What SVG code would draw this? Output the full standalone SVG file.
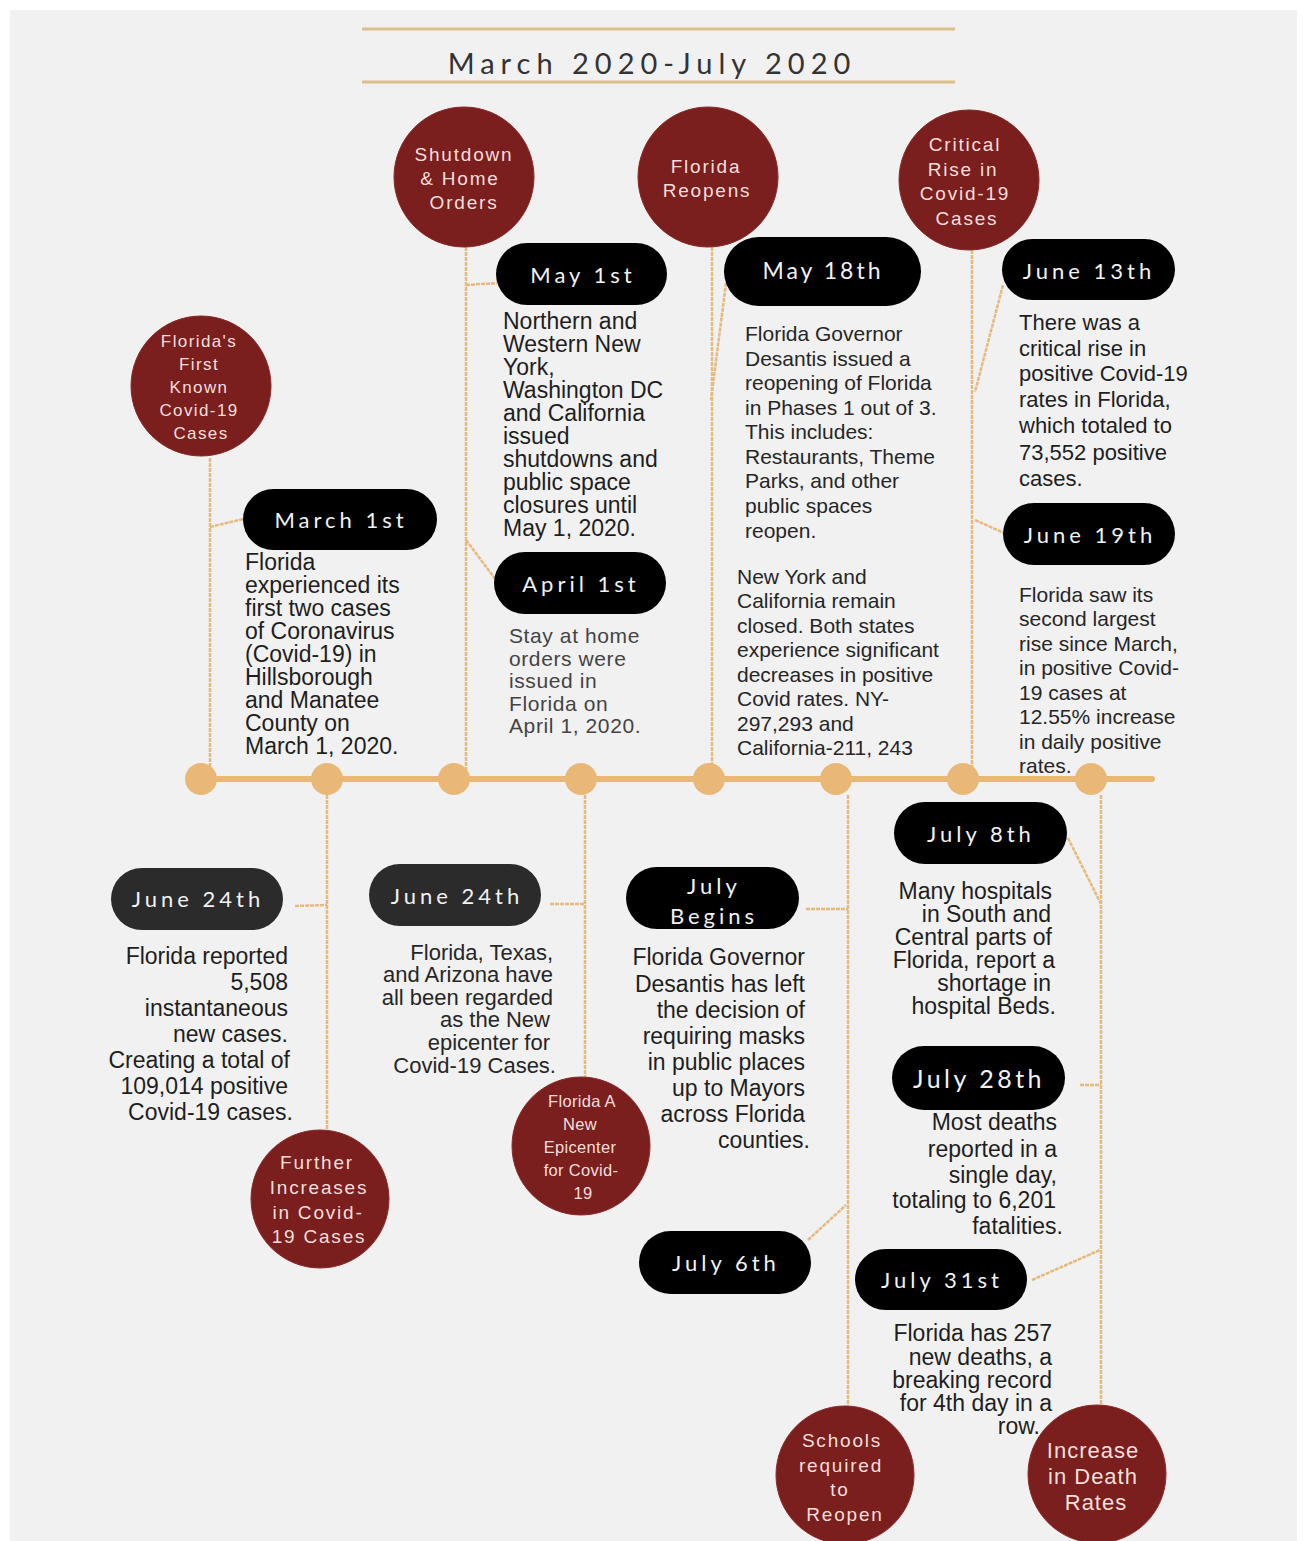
<svg xmlns="http://www.w3.org/2000/svg" width="1307" height="1541" viewBox="0 0 1307 1541">
<style>
.bg{fill:#f1f1f1}
.rule{stroke:#dcc08c;stroke-width:3}
.title{font-family:Lato,"Open Sans",sans-serif;font-size:29px;letter-spacing:6px;fill:#333;text-anchor:middle}
.axis{stroke:#e9b877;stroke-width:6;stroke-linecap:round}
.dot{fill:#e9b877}
.con{stroke:#e6b97c;stroke-width:2.5;fill:none;stroke-dasharray:4 1}
.circ{fill:#7a1e1e;stroke:#8a2a2a;stroke-width:1}
.ct{font-family:"Liberation Sans",Arial,sans-serif;font-size:19px;letter-spacing:1.8px;fill:#f4dfdc;text-anchor:middle}
.pill{fill:#000}
.pill2{fill:#2b2b2b}
.pt{font-family:Lato,"Open Sans",sans-serif;font-size:22px;letter-spacing:4px;fill:#f2f2f2;text-anchor:middle}
.bt{font-family:"Liberation Sans",Arial,sans-serif;font-size:23px;fill:#1e1e1e}
.st{font-family:"Liberation Sans",Arial,sans-serif;font-size:21px;fill:#262626}
.gt{font-family:"Liberation Sans",Arial,sans-serif;font-size:21px;letter-spacing:0.6px;fill:#444}
.r{text-anchor:end}
</style>
<rect width="1307" height="1541" fill="#ffffff"/>
<rect class="bg" x="10" y="10" width="1287" height="1531"/>

<g id="title">
<line class="rule" x1="362" y1="29" x2="955" y2="29"/>
<line class="rule" x1="362" y1="82" x2="955" y2="82"/>
<text class="title" x="652" y="74">March 2020-July 2020</text>
</g>

<g id="connectors">
<line class="axis" x1="190" y1="779" x2="1152" y2="779"/>
<line class="con" x1="210" y1="458" x2="210" y2="770"/>
<line class="con" x1="210" y1="527" x2="243" y2="519"/>
<line class="con" x1="466" y1="247" x2="466" y2="770"/>
<line class="con" x1="466" y1="285" x2="497" y2="283"/>
<line class="con" x1="466" y1="540" x2="496" y2="580"/>
<line class="con" x1="712" y1="247" x2="712" y2="770"/>
<line class="con" x1="726" y1="283" x2="711" y2="400"/>
<line class="con" x1="972" y1="250" x2="972" y2="770"/>
<line class="con" x1="1003" y1="285" x2="975" y2="392"/>
<line class="con" x1="975" y1="520" x2="1004" y2="533"/>
<line class="con" x1="327" y1="795" x2="327" y2="1131"/>
<line class="con" x1="295" y1="906" x2="327" y2="905"/>
<line class="con" x1="585" y1="795" x2="585" y2="1078"/>
<line class="con" x1="550" y1="904" x2="585" y2="904"/>
<line class="con" x1="848" y1="795" x2="848" y2="1406"/>
<line class="con" x1="806" y1="909" x2="848" y2="909"/>
<line class="con" x1="808" y1="1240" x2="846" y2="1205"/>
<line class="con" x1="1101" y1="795" x2="1101" y2="1406"/>
<line class="con" x1="1068" y1="838" x2="1101" y2="904"/>
<line class="con" x1="1080" y1="1085" x2="1101" y2="1085"/>
<line class="con" x1="1032" y1="1280" x2="1100" y2="1250"/>
<circle class="dot" cx="201" cy="779" r="16"/>
<circle class="dot" cx="327" cy="779" r="16"/>
<circle class="dot" cx="454" cy="779" r="16"/>
<circle class="dot" cx="581" cy="779" r="16"/>
<circle class="dot" cx="709" cy="779" r="16"/>
<circle class="dot" cx="836" cy="779" r="16"/>
<circle class="dot" cx="963" cy="779" r="16"/>
<circle class="dot" cx="1091" cy="779" r="16"/>
</g>

<g id="n-first">
<circle class="circ" cx="201" cy="386" r="70"/>
<text class="ct" style="font-size:17px;letter-spacing:1.4px" x="199" y="347">Florida's</text>
<text class="ct" style="font-size:17px;letter-spacing:1.4px" x="199" y="370">First</text>
<text class="ct" style="font-size:17px;letter-spacing:1.4px" x="199" y="393">Known</text>
<text class="ct" style="font-size:17px;letter-spacing:1.4px" x="199" y="416">Covid-19</text>
<text class="ct" style="font-size:17px;letter-spacing:1.4px" x="201" y="439">Cases</text>
</g>
<g id="n-shutdown">
<circle class="circ" cx="464" cy="177" r="70"/>
<text class="ct" x="464" y="161">Shutdown</text>
<text class="ct" x="460" y="185">&amp; Home</text>
<text class="ct" x="464" y="209">Orders</text>
</g>
<g id="n-reopens">
<circle class="circ" cx="708" cy="177" r="70"/>
<text class="ct" x="706" y="173">Florida</text>
<text class="ct" x="707" y="197">Reopens</text>
</g>
<g id="n-critical">
<circle class="circ" cx="969" cy="180" r="70"/>
<text class="ct" x="965" y="151">Critical</text>
<text class="ct" x="963" y="176">Rise in</text>
<text class="ct" x="965" y="200">Covid-19</text>
<text class="ct" x="967" y="225">Cases</text>
</g>
<g id="n-further">
<circle class="circ" cx="320" cy="1199" r="69"/>
<text class="ct" x="317" y="1169">Further</text>
<text class="ct" x="319" y="1194">Increases</text>
<text class="ct" x="318" y="1219">in Covid-</text>
<text class="ct" x="319" y="1243">19 Cases</text>
</g>
<g id="n-epicenter">
<circle class="circ" cx="581" cy="1146" r="69"/>
<text class="ct" style="font-size:16.5px;letter-spacing:0.3px" x="582" y="1107">Florida A</text>
<text class="ct" style="font-size:16.5px;letter-spacing:0.3px" x="580" y="1130">New</text>
<text class="ct" style="font-size:16.5px;letter-spacing:0.3px" x="580" y="1153">Epicenter</text>
<text class="ct" style="font-size:16.5px;letter-spacing:0.3px" x="581" y="1176">for Covid-</text>
<text class="ct" style="font-size:16.5px;letter-spacing:0.3px" x="583" y="1199">19</text>
</g>
<g id="n-schools">
<circle class="circ" cx="845" cy="1475" r="69"/>
<text class="ct" x="842" y="1447">Schools</text>
<text class="ct" x="841" y="1472">required</text>
<text class="ct" x="840" y="1496">to</text>
<text class="ct" x="845" y="1521">Reopen</text>
</g>
<g id="n-death">
<circle class="circ" cx="1097" cy="1474" r="69"/>
<text class="ct" style="font-size:22px;letter-spacing:1px" x="1093" y="1458">Increase</text>
<text class="ct" style="font-size:22px;letter-spacing:1px" x="1093" y="1484">in Death</text>
<text class="ct" style="font-size:22px;letter-spacing:1px" x="1096" y="1510">Rates</text>
</g>

<g id="e-march1">
<rect class="pill" x="243" y="489" width="194" height="61" rx="30.5"/>
<text class="pt" x="341" y="528">March 1st</text>
<text class="bt" x="245"><tspan x="245" y="570">Florida</tspan><tspan x="245" y="593">experienced its</tspan><tspan x="245" y="616">first two cases</tspan><tspan x="245" y="639">of Coronavirus</tspan><tspan x="245" y="662">(Covid-19) in</tspan><tspan x="245" y="685">Hillsborough</tspan><tspan x="245" y="708">and Manatee</tspan><tspan x="245" y="731">County on</tspan><tspan x="245" y="754">March 1, 2020.</tspan></text>
</g>
<g id="e-may1">
<rect class="pill" x="496" y="243" width="171" height="62" rx="31"/>
<text class="pt" x="583" y="283">May 1st</text>
<text class="bt" x="503"><tspan x="503" y="329">Northern and</tspan><tspan x="503" y="352">Western New</tspan><tspan x="503" y="375">York,</tspan><tspan x="503" y="398">Washington DC</tspan><tspan x="503" y="421">and California</tspan><tspan x="503" y="444">issued</tspan><tspan x="503" y="467">shutdowns and</tspan><tspan x="503" y="490">public space</tspan><tspan x="503" y="513">closures until</tspan><tspan x="503" y="536">May 1, 2020.</tspan></text>
</g>
<g id="e-april1">
<rect class="pill" x="494" y="552" width="172" height="62" rx="31"/>
<text class="pt" x="581" y="592">April 1st</text>
<text class="gt" x="509"><tspan x="509" y="643">Stay at home</tspan><tspan x="509" y="666">orders were</tspan><tspan x="509" y="688">issued in</tspan><tspan x="509" y="711">Florida on</tspan><tspan x="509" y="733">April 1, 2020.</tspan></text>
</g>
<g id="e-may18">
<rect class="pill" x="724" y="237" width="197" height="69" rx="34.5"/>
<text class="pt" style="font-size:23px;letter-spacing:3px" x="823" y="279">May 18th</text>
<text class="st" x="745"><tspan x="745" y="341">Florida Governor</tspan><tspan x="745" y="366">Desantis issued a</tspan><tspan x="745" y="390">reopening of Florida</tspan><tspan x="745" y="415">in Phases 1 out of 3.</tspan><tspan x="745" y="439">This includes:</tspan><tspan x="745" y="464">Restaurants, Theme</tspan><tspan x="745" y="488">Parks, and other</tspan><tspan x="745" y="513">public spaces</tspan><tspan x="745" y="538">reopen.</tspan></text>
<text class="st" x="737"><tspan x="737" y="584">New York and</tspan><tspan x="737" y="608">California remain</tspan><tspan x="737" y="633">closed. Both states</tspan><tspan x="737" y="657">experience significant</tspan><tspan x="737" y="682">decreases in positive</tspan><tspan x="737" y="706">Covid rates. NY-</tspan><tspan x="737" y="731">297,293 and</tspan><tspan x="737" y="755">California-211, 243</tspan></text>
</g>
<g id="e-june13">
<rect class="pill" x="1002" y="239" width="173" height="61" rx="30.5"/>
<text class="pt" x="1089" y="279">June 13th</text>
<text class="bt" style="font-size:22px" x="1019"><tspan x="1019" y="330">There was a</tspan><tspan x="1019" y="356">critical rise in</tspan><tspan x="1019" y="381">positive Covid-19</tspan><tspan x="1019" y="407">rates in Florida,</tspan><tspan x="1019" y="433">which totaled to</tspan><tspan x="1019" y="460">73,552 positive</tspan><tspan x="1019" y="486">cases.</tspan></text>
</g>
<g id="e-june19">
<rect class="pill" x="1003" y="503" width="172" height="62" rx="31"/>
<text class="pt" x="1090" y="543">June 19th</text>
<text class="st" x="1019"><tspan x="1019" y="602">Florida saw its</tspan><tspan x="1019" y="626">second largest</tspan><tspan x="1019" y="651">rise since March,</tspan><tspan x="1019" y="675">in positive Covid-</tspan><tspan x="1019" y="700">19 cases at</tspan><tspan x="1019" y="724">12.55% increase</tspan><tspan x="1019" y="749">in daily positive</tspan><tspan x="1019" y="773">rates.</tspan></text>
</g>
<g id="e-june24a">
<rect class="pill2" x="111" y="868" width="172" height="62" rx="31"/>
<text class="pt" x="198" y="907">June 24th</text>
<text class="bt r" x="289"><tspan x="288" y="964">Florida reported</tspan><tspan x="288" y="990">5,508</tspan><tspan x="288" y="1016">instantaneous</tspan><tspan x="288" y="1042">new cases.</tspan><tspan x="290" y="1068">Creating a total of</tspan><tspan x="288" y="1094">109,014 positive</tspan><tspan x="293" y="1120">Covid-19 cases.</tspan></text>
</g>
<g id="e-june24b">
<rect class="pill2" x="369" y="864" width="172" height="62" rx="31"/>
<text class="pt" x="457" y="904">June 24th</text>
<text class="st r" style="font-size:22px" x="553"><tspan x="553" y="960">Florida, Texas,</tspan><tspan x="553" y="982">and Arizona have</tspan><tspan x="553" y="1005">all been regarded</tspan><tspan x="550" y="1027">as the New</tspan><tspan x="550" y="1050">epicenter for</tspan><tspan x="556" y="1073">Covid-19 Cases.</tspan></text>
</g>
<g id="e-julybegins">
<rect class="pill" x="626" y="867" width="173" height="62" rx="31"/>
<text class="pt" x="714" y="894">July</text>
<text class="pt" x="714" y="924">Begins</text>
<text class="bt r" x="805"><tspan x="805" y="965">Florida Governor</tspan><tspan x="805" y="992">Desantis has left</tspan><tspan x="805" y="1018">the decision of</tspan><tspan x="805" y="1044">requiring masks</tspan><tspan x="805" y="1070">in public places</tspan><tspan x="805" y="1096">up to Mayors</tspan><tspan x="805" y="1122">across Florida</tspan><tspan x="810" y="1148">counties.</tspan></text>
</g>
<g id="e-july8">
<rect class="pill" x="894" y="802" width="173" height="62" rx="31"/>
<text class="pt" x="981" y="842">July 8th</text>
<text class="bt r" x="1052"><tspan x="1052" y="899">Many hospitals</tspan><tspan x="1051" y="922">in South and</tspan><tspan x="1052" y="945">Central parts of</tspan><tspan x="1055" y="968">Florida, report a</tspan><tspan x="1051" y="991">shortage in</tspan><tspan x="1056" y="1014">hospital Beds.</tspan></text>
</g>
<g id="e-july28">
<rect class="pill" x="892" y="1046" width="173" height="64" rx="32"/>
<text class="pt" style="font-size:25px;letter-spacing:3.5px" x="979" y="1088">July 28th</text>
<text class="bt r" x="1057"><tspan x="1057" y="1130">Most deaths</tspan><tspan x="1057" y="1157">reported in a</tspan><tspan x="1057" y="1183">single day,</tspan><tspan x="1056" y="1208">totaling to 6,201</tspan><tspan x="1063" y="1234">fatalities.</tspan></text>
</g>
<g id="e-july6">
<rect class="pill" x="639" y="1231" width="172" height="63" rx="31.5"/>
<text class="pt" x="726" y="1271">July 6th</text>
</g>
<g id="e-july31">
<rect class="pill" x="855" y="1249" width="172" height="61" rx="30.5"/>
<text class="pt" x="942" y="1288">July 31st</text>
<text class="bt r" x="1052"><tspan x="1052" y="1341">Florida has 257</tspan><tspan x="1052" y="1365">new deaths, a</tspan><tspan x="1052" y="1388">breaking record</tspan><tspan x="1052" y="1411">for 4th day in a</tspan><tspan x="1040" y="1434">row.</tspan></text>
</g>
</svg>
